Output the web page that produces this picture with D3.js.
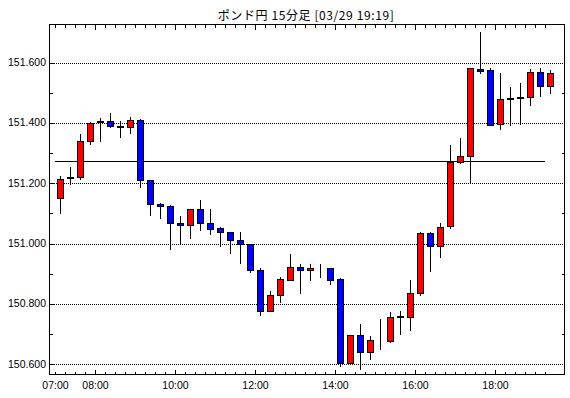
<!DOCTYPE html>
<html>
<head>
<meta charset="utf-8">
<script src="https://cdn.jsdelivr.net/npm/d3@7/dist/d3.min.js"></script>
<style>
  html, body { margin: 0; padding: 0; background: #fff; }
  svg { display: block; }
</style>
</head>
<body>
<svg id="chart" width="570" height="398"></svg>
<script>
const title = "ポンド円 15分足 [03/29 19:19]";
const times = ["07:00","07:15","07:30","07:45","08:00","08:15","08:30","08:45",
  "09:00","09:15","09:30","09:45","10:00","10:15","10:30","10:45",
  "11:00","11:15","11:30","11:45","12:00","12:15","12:30","12:45",
  "13:00","13:15","13:30","13:45","14:00","14:15","14:30","14:45",
  "15:00","15:15","15:30","15:45","16:00","16:15","16:30","16:45",
  "17:00","17:15","17:30","17:45","18:00","18:15","18:30","18:45",
  "19:00","19:15"];
const opens = [151.150,151.216,151.220,151.339,151.402,151.405,151.389,151.386,
  151.409,151.210,151.131,151.123,151.067,151.060,151.113,151.067,
  151.050,151.037,151.011,150.997,150.911,150.778,150.831,150.880,
  150.921,150.911,150.917,150.918,150.881,150.604,150.698,150.639,
  150.679,150.677,150.755,150.755,150.835,151.034,150.991,151.057,
  151.271,151.291,151.580,151.575,151.396,151.479,151.481,151.485,
  151.568,151.522];
const highs = [151.227,151.258,151.366,151.407,151.420,151.436,151.410,151.422,
  151.417,151.213,151.138,151.130,151.095,151.115,151.147,151.117,
  151.057,151.041,151.041,150.997,150.922,150.847,150.892,150.968,
  150.935,150.935,150.935,150.918,150.888,150.698,150.735,150.698,
  150.754,150.776,150.779,150.882,151.040,151.040,151.071,151.330,
  151.353,151.581,151.705,151.587,151.569,151.523,151.536,151.581,
  151.585,151.578];
const lows = [151.100,151.196,151.215,151.331,151.339,151.386,151.354,151.368,
  151.186,151.096,151.086,150.983,151.001,151.019,151.046,151.032,
  150.993,150.969,150.936,150.906,150.764,150.778,150.807,150.880,
  150.837,150.880,150.888,150.867,150.594,150.604,150.585,150.616,
  150.651,150.674,150.701,150.714,150.828,150.910,150.956,151.050,
  151.268,151.200,151.565,151.392,151.381,151.394,151.398,151.461,
  151.490,151.498];
const closes = [151.215,151.221,151.339,151.401,151.406,151.389,151.386,151.409,
  151.210,151.132,151.123,151.067,151.060,151.115,151.067,151.049,
  151.037,151.011,150.997,150.911,150.778,150.831,150.881,150.921,
  150.911,150.918,150.917,150.880,150.604,150.698,150.639,150.679,
  150.679,150.755,150.759,150.835,151.034,150.991,151.056,151.271,
  151.289,151.581,151.573,151.394,151.479,151.482,151.485,151.568,
  151.522,151.565];
const refLevel = 151.273;
const yTicks = [150.6, 150.8, 151.0, 151.2, 151.4, 151.6];
const yMinorTicks = [150.7, 150.9, 151.1, 151.3, 151.5];
const xLabels = ["07:00","08:00","10:00","12:00","14:00","16:00","18:00"];
const xLongTicks = ["08:00","10:00","12:00","14:00","16:00","18:00"];

const svg = d3.select("#chart");
const L = 49.5, R = 564.5, T = 24.5, B = 374.5;

const x = d3.scaleBand().domain(times).range([55, 555]).padding(0);
const y = d3.scaleLinear().domain([150.6, 151.6]).range([364.2, 62.6]);
const py = v => Math.round(y(v)) + 0.5;

const font = "'Liberation Sans', Arial, sans-serif";

// title
svg.append("text")
  .attr("x", 306).attr("y", 19.5)
  .attr("text-anchor", "middle")
  .attr("font-family", "'Noto Sans CJK JP', sans-serif")
  .attr("font-size", 12)
  .attr("letter-spacing", 0.6)
  .attr("fill", "#000")
  .text(title);

// grid (dotted)
const g = svg.append("g").attr("shape-rendering", "crispEdges");
g.selectAll("line.grid").data(yTicks).enter().append("line")
  .attr("x1", L + 4).attr("x2", R)
  .attr("y1", d => py(d)).attr("y2", d => py(d))
  .attr("stroke", "#000").attr("stroke-width", 1)
  .attr("stroke-dasharray", "1,1");

// reference line
g.append("line")
  .attr("x1", x(times[0])).attr("x2", x(times[times.length - 1]))
  .attr("y1", py(refLevel)).attr("y2", py(refLevel))
  .attr("stroke", "#000").attr("stroke-width", 1);

// frame
g.append("rect")
  .attr("x", L).attr("y", T).attr("width", R - L).attr("height", B - T)
  .attr("fill", "none").attr("stroke", "#000").attr("stroke-width", 1);

// y axis ticks
g.selectAll("line.ymaj").data(yTicks).enter().append("line")
  .attr("x1", L).attr("x2", L + 4)
  .attr("y1", d => py(d)).attr("y2", d => py(d))
  .attr("stroke", "#000");
g.selectAll("line.yminL").data(yMinorTicks).enter().append("line")
  .attr("x1", L).attr("x2", L + 3)
  .attr("y1", d => py(d)).attr("y2", d => py(d))
  .attr("stroke", "#000");
g.selectAll("line.yminR").data(yMinorTicks).enter().append("line")
  .attr("x1", R - 3).attr("x2", R)
  .attr("y1", d => py(d)).attr("y2", d => py(d))
  .attr("stroke", "#000");

// y labels
svg.selectAll("text.ylab").data(yTicks).enter().append("text")
  .attr("x", 46).attr("y", d => y(d) + 3.5)
  .attr("text-anchor", "end")
  .attr("font-family", font).attr("font-size", 10.5)
  .attr("fill", "#000")
  .text(d => d3.format(".3f")(d));

// x ticks (top and bottom)
const tickLen = t => xLongTicks.includes(t) ? 5 : 3;
g.selectAll("line.xb").data(times).enter().append("line")
  .attr("x1", d => x(d) + 0.5).attr("x2", d => x(d) + 0.5)
  .attr("y1", B).attr("y2", d => B - tickLen(d))
  .attr("stroke", "#000");
g.selectAll("line.xt").data(times).enter().append("line")
  .attr("x1", d => x(d) + 0.5).attr("x2", d => x(d) + 0.5)
  .attr("y1", T).attr("y2", d => T + tickLen(d))
  .attr("stroke", "#000");

// x labels
svg.selectAll("text.xlab").data(xLabels).enter().append("text")
  .attr("x", d => x(d) + 0.5).attr("y", 389)
  .attr("text-anchor", "middle")
  .attr("font-family", font).attr("font-size", 10.5)
  .attr("fill", "#000")
  .text(d => d);

// candles
const data = times.map((t, i) => ({t, o: opens[i], h: highs[i], l: lows[i], c: closes[i]}));
const cg = svg.append("g").attr("shape-rendering", "crispEdges");
const cx = d => x(d.t) + x.bandwidth() / 2;

cg.selectAll("line.wick").data(data).enter().append("line")
  .attr("x1", d => cx(d) + 0.5).attr("x2", d => cx(d) + 0.5)
  .attr("y1", d => py(d.h)).attr("y2", d => py(d.l))
  .attr("stroke", "#000").attr("stroke-width", 1);

cg.selectAll("rect.body").data(data).enter().append("rect")
  .attr("x", d => cx(d) - 2.5)
  .attr("width", 6)
  .attr("y", d => py(Math.max(d.o, d.c)))
  .attr("height", d => Math.max(0, py(Math.min(d.o, d.c)) - py(Math.max(d.o, d.c))))
  .attr("fill", d => d.c >= d.o ? "#ff0000" : "#0000ff")
  .attr("stroke", "#000").attr("stroke-width", 1);
</script>
</body>
</html>
